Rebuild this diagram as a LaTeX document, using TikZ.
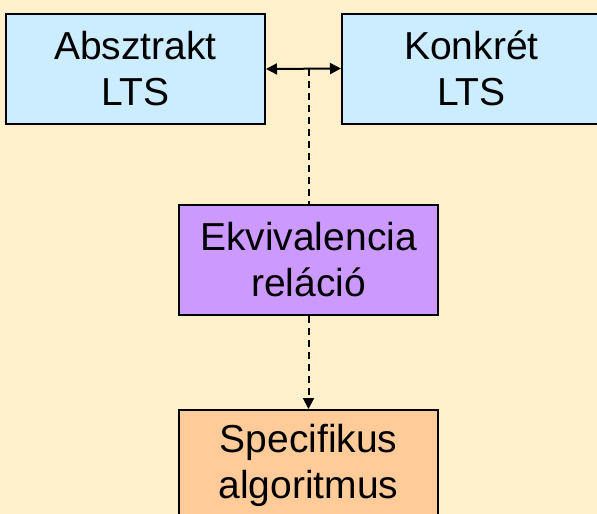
\documentclass[tikz,border=0pt]{standalone}
\usepackage{fontspec}
\setmainfont{Liberation Sans}
\usetikzlibrary{arrows.meta}
\definecolor{bgcol}{RGB}{255,240,204}
\definecolor{bluebox}{RGB}{204,236,255}
\definecolor{purplebox}{RGB}{204,153,255}
\definecolor{orangebox}{RGB}{255,204,153}
\begin{document}
\begin{tikzpicture}[x=1pt,y=-1pt,
  box/.style={draw=black, line width=2pt, minimum width=259pt, minimum height=110pt,
    inner sep=0pt, align=center, font=\fontsize{39}{46}\selectfont},
  conn/.style={line width=2pt, draw=black},
  dashconn/.style={line width=2pt, draw=black, dash pattern=on 7pt off 5pt},
  tip/.tip={Triangle[length=11pt,width=11pt]}]
\useasboundingbox (0,0) rectangle (597,514);
\clip (0,0) rectangle (597,514);
\fill[bgcol] (0,0) rectangle (597,514);
\node[box, fill=bluebox] (abs) at (135.5,69) {Absztrakt\\LTS};
\node[box, fill=bluebox] (kon) at (471.5,68.5) {Konkrét\\LTS};
\node[box, fill=purplebox] (ekv) at (308.5,260) {Ekvivalencia\\reláció};
\node[box, fill=orangebox] (spec) at (308.5,465) {Specifikus\\algoritmus};
\draw[conn, tip-tip] (abs.east) -- (kon.west);
\coordinate (mid) at (abs.east -| ekv.north);
\draw[dashconn] (mid) -- (ekv.north);
\draw[dashconn, -tip] (ekv.south) -- (spec.north);
\end{tikzpicture}
\end{document}
